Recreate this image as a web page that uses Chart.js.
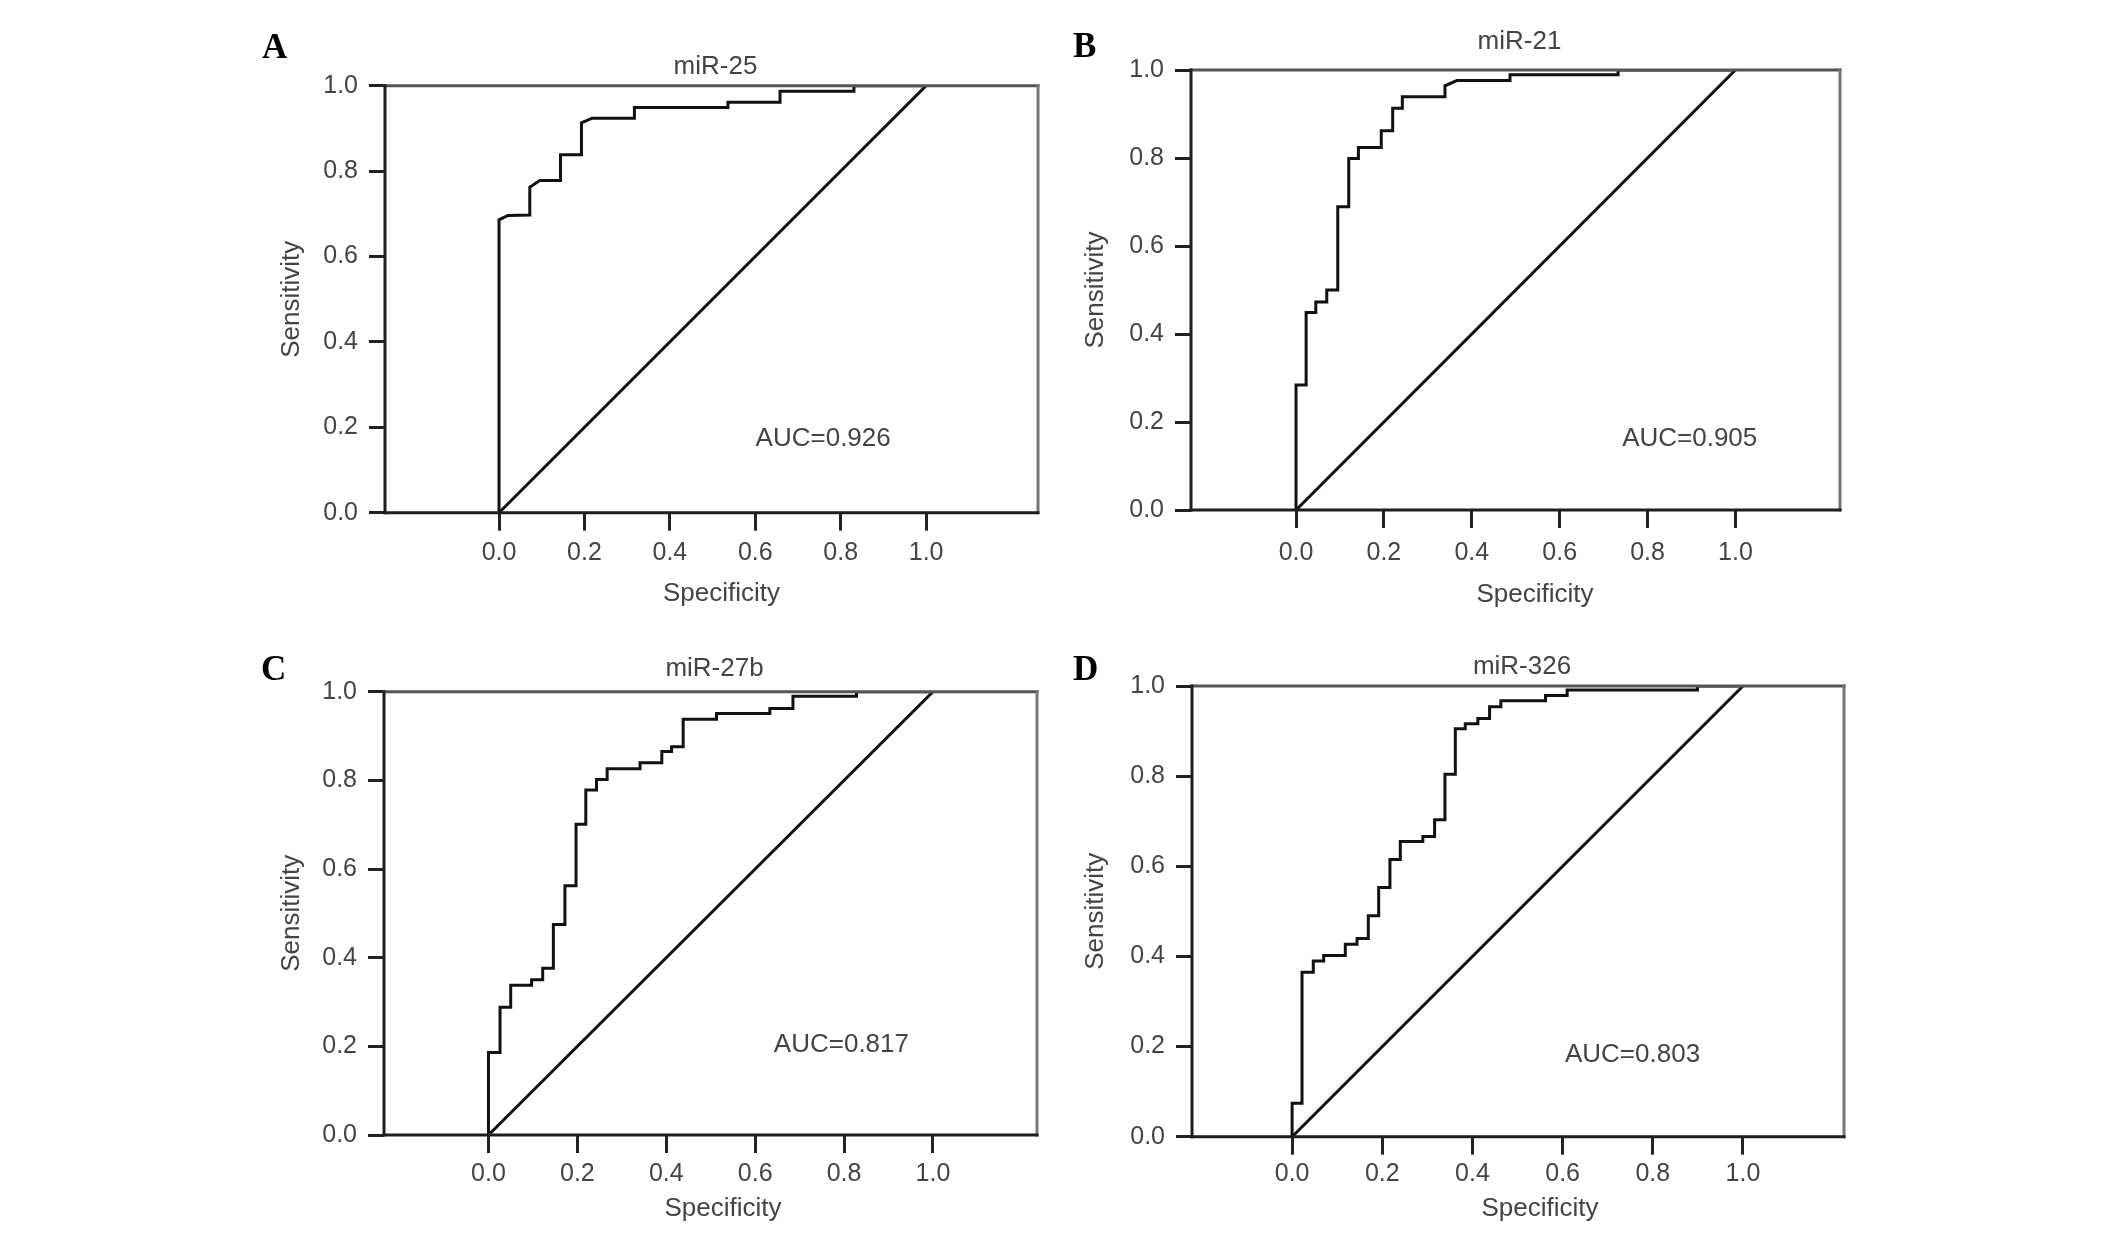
<!doctype html>
<html lang="en">
    <head>
        <meta charset="UTF-8" />
        <title>ROC curves of serum miRNAs</title>
        <style>
            html,
            body {
                margin: 0;
                padding: 0;
                background: #fff;
            }
            body {
                position: relative;
                width: 2126px;
                height: 1234px;
                overflow: hidden;
            }
            canvas {
                position: absolute;
            }
        </style>
    </head>

    <body>
        <canvas id="rocA"></canvas>
        <canvas id="rocB"></canvas>
        <canvas id="rocC"></canvas>
        <canvas id="rocD"></canvas>

        <script src="https://cdn.jsdelivr.net/npm/chart.js@4.4.1/dist/chart.umd.min.js"></script>

        <script>
            // ---- data ----
            const panelLetters = ["A", "B", "C", "D"];
            const panelNames = ["miR-25", "miR-21", "miR-27b", "miR-326"];
            const aucValues = [0.926, 0.905, 0.817, 0.803];

            const xTickValues = [0, 0.2, 0.4, 0.6, 0.8, 1.0];
            const yTickValues = [0, 0.2, 0.4, 0.6, 0.8, 1.0];

            // reference (chance) line
            const refX = [0, 1];
            const refY = [0, 1];

            const miR25X = [0, 0, 0.021, 0.072, 0.072, 0.095, 0.144, 0.144, 0.193, 0.193,
                0.218, 0.317, 0.317, 0.536, 0.536, 0.658, 0.658, 0.831, 0.831, 1.0];
            const miR25Y = [0, 0.686, 0.696, 0.697, 0.762, 0.778, 0.778, 0.838, 0.838, 0.913,
                0.924, 0.924, 0.949, 0.949, 0.961, 0.961, 0.987, 0.987, 1.0, 1.0];

            const miR21X = [0, 0, 0.023, 0.023, 0.045, 0.045, 0.07, 0.07, 0.095, 0.095,
                0.12, 0.12, 0.142, 0.142, 0.194, 0.194, 0.22, 0.22, 0.242, 0.242,
                0.339, 0.339, 0.366, 0.487, 0.487, 0.733, 0.733, 1.0];
            const miR21Y = [0, 0.284, 0.284, 0.449, 0.449, 0.473, 0.473, 0.5, 0.5, 0.689,
                0.689, 0.799, 0.799, 0.824, 0.824, 0.862, 0.862, 0.913, 0.913, 0.939,
                0.939, 0.964, 0.976, 0.976, 0.989, 0.989, 1.0, 1.0];

            const miR27bX = [0, 0, 0.026, 0.026, 0.05, 0.05, 0.097, 0.097, 0.122, 0.122,
                0.146, 0.146, 0.172, 0.172, 0.197, 0.197, 0.219, 0.219, 0.243, 0.243,
                0.267, 0.267, 0.341, 0.341, 0.39, 0.39, 0.412, 0.412, 0.438, 0.438,
                0.513, 0.513, 0.633, 0.633, 0.685, 0.685, 0.828, 0.828, 1.0];
            const miR27bY = [0, 0.186, 0.186, 0.288, 0.288, 0.338, 0.338, 0.35, 0.35, 0.376,
                0.376, 0.475, 0.475, 0.562, 0.562, 0.701, 0.701, 0.778, 0.778, 0.802,
                0.802, 0.826, 0.826, 0.84, 0.84, 0.865, 0.865, 0.876, 0.876, 0.938,
                0.938, 0.951, 0.951, 0.962, 0.962, 0.99, 0.99, 1.0, 1.0];

            const miR326X = [0, 0, 0.022, 0.022, 0.047, 0.047, 0.07, 0.07, 0.118, 0.118,
                0.144, 0.144, 0.169, 0.169, 0.192, 0.192, 0.217, 0.217, 0.24, 0.24,
                0.29, 0.29, 0.316, 0.316, 0.339, 0.339, 0.362, 0.362, 0.384, 0.384,
                0.412, 0.412, 0.438, 0.438, 0.463, 0.463, 0.562, 0.562, 0.61, 0.61,
                0.899, 0.899, 1.0];
            const miR326Y = [0, 0.074, 0.074, 0.365, 0.365, 0.39, 0.39, 0.402, 0.402, 0.427,
                0.427, 0.44, 0.44, 0.49, 0.49, 0.553, 0.553, 0.615, 0.615, 0.655,
                0.655, 0.666, 0.666, 0.703, 0.703, 0.804, 0.804, 0.905, 0.905, 0.916,
                0.916, 0.928, 0.928, 0.954, 0.954, 0.967, 0.967, 0.979, 0.979, 0.991,
                0.991, 1.0, 1.0];

            const curvesX = [miR25X, miR21X, miR27bX, miR326X];
            const curvesY = [miR25Y, miR21Y, miR27bY, miR326Y];

            // ---- page layout (pixels on the 2126x1234 page) ----
            // canvas: [left, top, width, height], box: [left, right, top, bottom]
            const layouts = [
                { canvas: [240, 0, 840, 617], box: [385, 1038, 85.7, 512.7], xMin: -0.267, xMax: 1.262,
                  titleBase: 73.6, letter: [262, 58], sensX: 291.5, spec: [721.5, 594.3], tickGap: 40, auc: [0.759, 0.157] },
                { canvas: [1063, 0, 860, 617], box: [1191, 1840, 70, 510], xMin: -0.239, xMax: 1.238,
                  titleBase: 49.2, letter: [1073, 57.3], sensX: 1095.5, spec: [1535, 595], tickGap: 43, auc: [0.896, 0.145] },
                { canvas: [240, 617, 840, 617], box: [384, 1037, 691.7, 1135], xMin: -0.235, xMax: 1.234,
                  titleBase: 676, letter: [261, 680], sensX: 291.5, spec: [723, 1209.3], tickGap: 39, auc: [0.794, 0.188] },
                { canvas: [1063, 617, 860, 617], box: [1192, 1844, 686, 1136.7], xMin: -0.222, xMax: 1.224,
                  titleBase: 674, letter: [1073, 680], sensX: 1095.5, spec: [1540, 1209], tickGap: 37.6, auc: [0.755, 0.166] },
            ];

            const sans = '"Liberation Sans", Arial, sans-serif';
            const textColor = "#444";
            Chart.defaults.font.family = sans;

            function toPoints(xs, ys) {
                return xs.map((x, i) => ({ x: x, y: ys[i] }));
            }

            // plot frame, drawn over the curves like the original
            const framePlugin = {
                id: "frame",
                afterDatasetsDraw(chart) {
                    const { ctx } = chart;
                    const { left, right, top, bottom } = chart.chartArea;
                    const seg = (x1, y1, x2, y2, color) => {
                        ctx.strokeStyle = color;
                        ctx.beginPath();
                        ctx.moveTo(x1, y1);
                        ctx.lineTo(x2, y2);
                        ctx.stroke();
                    };
                    ctx.save();
                    ctx.lineWidth = 3;
                    ctx.lineCap = "square";
                    seg(left, top, right, top, "#555");
                    seg(right, top, right, bottom, "#777");
                    seg(left, bottom, right, bottom, "#1e1e1e");
                    seg(left, top, left, bottom, "#1e1e1e");
                    ctx.restore();
                },
            };

            // panel letter, title, x-axis title and AUC note
            const notesPlugin = {
                id: "notes",
                afterDraw(chart, args, opts) {
                    const { ctx, chartArea, scales } = chart;
                    const lay = opts.layout;
                    const [px, py] = lay.canvas;
                    ctx.save();
                    ctx.textBaseline = "alphabetic";

                    ctx.fillStyle = "#000";
                    ctx.textAlign = "left";
                    ctx.font = 'bold 35px "Liberation Serif", "Times New Roman", serif';
                    ctx.fillText(opts.letter, lay.letter[0] - px, lay.letter[1] - py);

                    ctx.fillStyle = textColor;
                    ctx.textAlign = "center";
                    ctx.font = "26px " + sans;
                    ctx.fillText(opts.name, (chartArea.left + chartArea.right) / 2 + 4, lay.titleBase - py);

                    ctx.fillText(
                        "AUC=" + opts.auc.toFixed(3),
                        scales.x.getPixelForValue(lay.auc[0]),
                        scales.y.getPixelForValue(lay.auc[1])
                    );

                    ctx.textBaseline = "middle";
                    ctx.fillText("Specificity", lay.spec[0] - px, lay.spec[1] - py);
                    ctx.restore();
                },
            };

            const canvasIds = ["rocA", "rocB", "rocC", "rocD"];

            canvasIds.forEach((id, i) => {
                const lay = layouts[i];
                const [px, py, w, h] = lay.canvas;
                const [L, R, T, B] = lay.box;
                const el = document.getElementById(id);
                el.width = w;
                el.height = h;
                el.style.left = px + "px";
                el.style.top = py + "px";
                el.style.width = w + "px";
                el.style.height = h + "px";

                const xTickLen = 18;
                const yTickLen = 16;

                new Chart(el, {
                    type: "scatter",
                    data: {
                        datasets: [
                            {
                                data: toPoints(curvesX[i], curvesY[i]),
                                showLine: true,
                                borderColor: "#111",
                                borderWidth: 3,
                                pointRadius: 0,
                                tension: 0,
                            },
                            {
                                data: toPoints(refX, refY),
                                showLine: true,
                                borderColor: "#111",
                                borderWidth: 3,
                                pointRadius: 0,
                            },
                        ],
                    },
                    options: {
                        responsive: false,
                        animation: false,
                        events: [],
                        layout: {
                            padding: { left: 0, top: T - py, right: px + w - R, bottom: 0 },
                        },
                        plugins: {
                            legend: { display: false },
                            tooltip: { enabled: false },
                            notes: { layout: lay, letter: panelLetters[i], name: panelNames[i], auc: aucValues[i] },
                        },
                        scales: {
                            x: {
                                type: "linear",
                                min: lay.xMin,
                                max: lay.xMax,
                                afterBuildTicks: (s) => {
                                    s.ticks = xTickValues.map((v) => ({ value: v }));
                                },
                                afterFit: (s) => {
                                    s.height = py + h - B;
                                },
                                ticks: {
                                    callback: (v) => Number(v).toFixed(1),
                                    color: textColor,
                                    font: { size: 25 },
                                    padding: lay.tickGap - xTickLen - 15,
                                    maxRotation: 0,
                                    autoSkip: false,
                                },
                                grid: {
                                    display: true,
                                    drawOnChartArea: false,
                                    drawTicks: true,
                                    tickLength: xTickLen,
                                    tickWidth: 3,
                                    tickColor: "#222",
                                },
                                border: { display: false },
                                title: { display: false },
                            },
                            y: {
                                type: "linear",
                                min: 0,
                                max: 1,
                                afterBuildTicks: (s) => {
                                    s.ticks = yTickValues.map((v) => ({ value: v }));
                                },
                                afterFit: (s) => {
                                    s.width = L - px;
                                },
                                ticks: {
                                    callback: (v) => Number(v).toFixed(1),
                                    color: textColor,
                                    font: { size: 25 },
                                    padding: 11,
                                    autoSkip: false,
                                },
                                grid: {
                                    display: true,
                                    drawOnChartArea: false,
                                    drawTicks: true,
                                    tickLength: yTickLen,
                                    tickWidth: 3,
                                    tickColor: "#222",
                                },
                                border: { display: false },
                                title: {
                                    display: true,
                                    text: "Sensitivity",
                                    color: textColor,
                                    font: { size: 26 },
                                    padding: { top: lay.sensX - px - 15.6, bottom: 0 },
                                },
                            },
                        },
                    },
                    plugins: [framePlugin, notesPlugin],
                });
            });
        </script>
    </body>
</html>
